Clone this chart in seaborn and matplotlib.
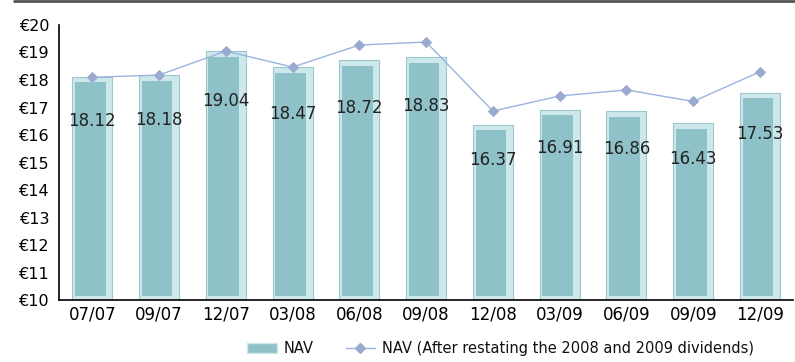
import matplotlib
matplotlib.use("Agg")
import matplotlib.pyplot as plt
import seaborn as sns
import pandas as pd
import numpy as np
from matplotlib.lines import Line2D
from matplotlib.patches import Patch

# 数据
periods = ["07/07", "09/07", "12/07", "03/08", "06/08", "09/08",
           "12/08", "03/09", "06/09", "09/09", "12/09"]
nav = [18.12, 18.18, 19.04, 18.47, 18.72, 18.83, 16.37, 16.91, 16.86, 16.43, 17.53]
nav_restated = [18.10, 18.18, 19.05, 18.47, 19.27, 19.38, 16.87, 17.42, 17.64, 17.22, 18.30]

outer_color = "#cde8eb"
inner_color = "#8fc1c8"
edge_color = "#9cc7cc"
line_color = "#9bb4e0"
marker_color = "#9aa9d0"

sns.set_style("white")
plt.rcParams["font.family"] = ["DejaVu Sans"]
plt.rcParams["text.color"] = "#111111"
plt.rcParams["xtick.color"] = "black"
plt.rcParams["ytick.color"] = "black"

df = pd.DataFrame({"period": periods, "nav": nav, "restated": nav_restated})

fig, ax = plt.subplots(figsize=(7.95, 3.62), dpi=100)
fig.subplots_adjust(left=0.074, right=0.998, bottom=0.171, top=0.931)

# 外层柱
sns.barplot(data=df, x="period", y="nav", color=outer_color, saturation=1,
            width=0.6, edgecolor=edge_color, linewidth=0.8, ax=ax)
n_outer = len(ax.patches)

# 内层柱（斜面效果）
sns.barplot(data=df, x="period", y="nav", color=inner_color, saturation=1,
            width=0.46, linewidth=0, ax=ax)
for p, v in zip(ax.patches[n_outer:], nav):
    p.set_x(p.get_x() - 0.03)
    p.set_y(10.15)
    p.set_height(v - 0.2 - 10.15)

# 折线
sns.lineplot(x=np.arange(len(periods)), y=nav_restated, color=line_color, lw=1,
             marker="D", markersize=5, markerfacecolor=marker_color,
             markeredgecolor=marker_color, ax=ax)

# 数值标签
for i, v in enumerate(nav):
    ax.text(i, 10 + (v - 10) * 0.8, f"{v:.2f}", ha="center", va="center",
            fontsize=12, color="#222222")

ax.set_ylim(10, 20)
ax.set_xlim(-0.5, len(periods) - 0.5)
ax.set_yticks(range(10, 21))
ax.set_yticklabels([f"€{v}" for v in range(10, 21)], fontsize=11.5)
ax.set_xticks(range(len(periods)))
ax.set_xticklabels(periods, fontsize=12)
ax.set_xticks(np.arange(-0.5, len(periods), 1), minor=True)
ax.tick_params(axis="x", which="major", length=0, pad=4)
ax.tick_params(axis="x", which="minor", length=8, direction="inout", width=1.2)
ax.tick_params(axis="y", length=6, direction="inout", width=1.2, pad=4)
ax.set_xlabel("")
ax.set_ylabel("")
sns.despine(ax=ax)
for s in ["left", "bottom"]:
    ax.spines[s].set_color("black")
    ax.spines[s].set_linewidth(1.2)

# 图例
handles = [Patch(facecolor=inner_color, edgecolor=outer_color),
           Line2D([0], [0], color=line_color, lw=1, marker="D", markersize=5,
                  markerfacecolor=marker_color, markeredgecolor=marker_color)]
fig.legend(handles, ["NAV", "NAV (After restating the 2008 and 2009 dividends)"],
           loc="lower center", bbox_to_anchor=(0.63, -0.02), ncol=2,
           frameon=False, fontsize=10.5, handlelength=2.0, handletextpad=0.5,
           columnspacing=2.2)

# 顶部分隔线
fig.add_artist(Line2D([0.018, 1], [0.997, 0.997], transform=fig.transFigure,
                      color="#555555", lw=2))

fig.savefig("out.png", dpi=100)
